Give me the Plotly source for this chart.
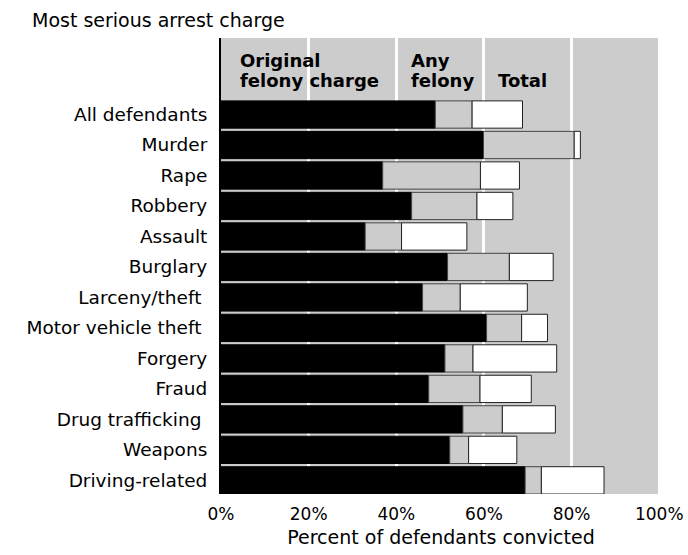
import plotly.graph_objects as go

charges = ['All defendants', 'Murder', 'Rape', 'Robbery', 'Assault', 'Burglary',
           'Larceny/theft\u00a0', 'Motor vehicle theft\u00a0', 'Forgery', 'Fraud',
           'Drug trafficking\u00a0', 'Weapons', 'Driving-related']
# percent convicted (cumulative)
original_felony = [48.9, 59.9, 36.9, 43.5, 32.9, 51.7, 46.0, 60.6, 51.1, 47.4, 55.2, 52.2, 69.4]
any_felony = [57.3, 80.6, 59.2, 58.4, 41.2, 65.8, 54.6, 68.6, 57.5, 59.1, 64.2, 56.5, 73.1]
total = [68.8, 82.0, 68.1, 66.6, 56.1, 75.8, 69.9, 74.5, 76.6, 70.8, 76.3, 67.5, 87.4]

ticks = [0, 20, 40, 60, 80, 100]
tick_text = ['0%', '20%', '40%', '60%', '80%', '100%']

font = 'DejaVu Sans'

fig = go.Figure()
fig.add_trace(go.Bar(y=charges, x=original_felony, orientation='h',
                     marker=dict(color='black', line=dict(color='black', width=1))))
fig.add_trace(go.Bar(y=charges, x=[a - o for a, o in zip(any_felony, original_felony)],
                     base=original_felony, orientation='h',
                     marker=dict(color='#cccccc', line=dict(color='#444444', width=1))))
fig.add_trace(go.Bar(y=charges, x=[t - a for t, a in zip(total, any_felony)],
                     base=any_felony, orientation='h',
                     marker=dict(color='white', line=dict(color='#222222', width=1))))

fig.update_layout(
    width=688, height=555,
    margin=dict(l=221, r=27, t=38, b=61),
    barmode='overlay', bargap=0.105,
    showlegend=False,
    plot_bgcolor='#cccccc', paper_bgcolor='white',
    font=dict(family=font, size=18, color='black'),
)
fig.update_xaxes(range=[0, 100.4], tickvals=ticks, ticktext=tick_text,
                 tickfont=dict(size=17), automargin=False, ticklabelstandoff=8,
                 showgrid=True, gridcolor='white', gridwidth=3, zeroline=False,
                 ticks='', title=dict(text='Percent of defendants convicted',
                                      font=dict(size=19), standoff=7))
fig.update_yaxes(categoryorder='array', categoryarray=charges, automargin=False,
                 range=[12.4475, -2.51], showgrid=False, ticks='',
                 tickfont=dict(size=18.5),
                 showline=True, linecolor='black', linewidth=2, ticklabelstandoff=8)

fig.add_annotation(text='Most serious arrest charge', xref='paper', yref='paper',
                   x=-0.435, y=1.0395, xanchor='left', yanchor='middle',
                   showarrow=False, font=dict(size=19))
for label, xpos, ypos in [('Original', 3.95, 0.9496), ('felony charge', 3.95, 0.9068),
                          ('Any', 43.0, 0.9496), ('felony', 43.0, 0.9068),
                          ('Total', 62.8, 0.9068)]:
    fig.add_annotation(text='<b>' + label + '</b>', xref='x', yref='paper',
                       x=xpos, y=ypos, xanchor='left', yanchor='middle',
                       showarrow=False, font=dict(size=18))

fig.write_html('out.html', config={'displayModeBar': False},
               post_script="document.body.style.margin = '0';")
